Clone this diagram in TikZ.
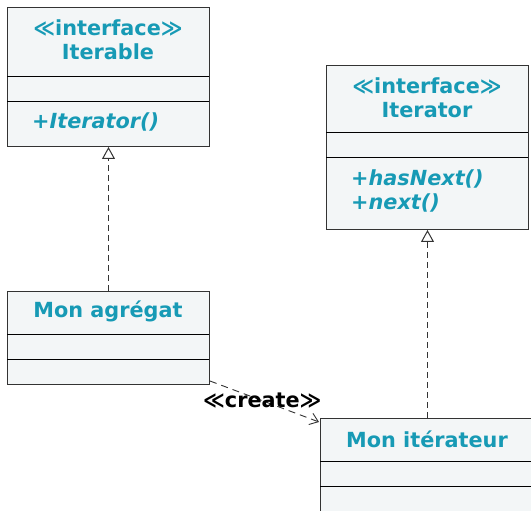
\documentclass[tikz,border=0pt]{standalone}
\usepackage{fontspec}
\setmainfont{DejaVu Sans}
\usetikzlibrary{arrows.meta}
\definecolor{umlteal}{HTML}{179AB5}
\definecolor{umlfill}{HTML}{F3F6F7}
\definecolor{umlline}{HTML}{333333}
\tikzset{
  classbox/.style={draw=umlline, fill=umlfill, line width=1pt, rectangle,
    inner sep=0pt, anchor=north west},
  divider/.style={draw=black, line width=1pt},
  title/.style={text=umlteal, font=\fontsize{20.8}{24}\selectfont\bfseries,
    align=center, inner sep=0pt},
  member/.style={text=umlteal, font=\fontsize{20.8}{24}\selectfont\bfseries\itshape,
    align=left, inner sep=0pt, anchor=west},
  realize/.style={draw=umlline, line width=1pt, dash pattern=on 6pt off 4pt,
    -{Triangle[open, width=13pt, length=12pt, line width=1pt]}},
  depend/.style={draw=umlline, line width=0.9pt, dash pattern=on 7pt off 5pt,
    -{Straight Barb[length=8pt, width=12pt, line width=0.9pt]}},
  stereo/.style={text=black, font=\fontsize{20.8}{24}\selectfont\bfseries, inner sep=0pt}
}
\begin{document}
\begin{tikzpicture}[x=1pt, y=1pt]
\useasboundingbox (0,0) rectangle (531,511);
\begin{scope}
\clip (0,0) rectangle (531,511);

% Iterable interface
\node[classbox, minimum width=202pt, minimum height=139pt] (iterable) at (7,504) {};
\draw[divider] (7,434) -- (209,434);
\draw[divider] (7,409) -- (209,409);
\node[title] (iterablename) at (108,471) {≪interface≫\\Iterable};
\node[member] (iterablemeth) at (32,389) {+Iterator()};

% Iterator interface
\node[classbox, minimum width=202pt, minimum height=164pt] (iterator) at (326,446) {};
\draw[divider] (326,378) -- (528,378);
\draw[divider] (326,353) -- (528,353);
\node[title] (iteratorname) at (427,413) {≪interface≫\\Iterator};
\node[member] (iteratormeth) at (351,320) {+hasNext()\\+next()};

% Concrete aggregate
\node[classbox, minimum width=202pt, minimum height=93pt] (agregat) at (7,220) {};
\draw[divider] (7,176) -- (209,176);
\draw[divider] (7,151) -- (209,151);
\node[title] (agregatname) at (108,200) {Mon agrégat};

% Concrete iterator (runs past the right and bottom edges)
\node[classbox, minimum width=214pt, minimum height=150pt] (iterateur) at (320,93) {};
\draw[divider] (320,49) -- (534,49);
\draw[divider] (320,24) -- (534,24);
\node[title] (iterateurname) at (427,72) {Mon itérateur};

% Realizations
\draw[realize] (agregat.north) -- (iterable.south);
\draw[realize] (iterateur.north) -- (iterator.south);

% Creation dependency
\draw[depend] ([yshift=4pt]agregat.south east) -- ([xshift=-1pt,yshift=-4pt]iterateur.north west)
  node[stereo, pos=0.48] (createlbl) {≪create≫};
\end{scope}
\end{tikzpicture}
\end{document}
